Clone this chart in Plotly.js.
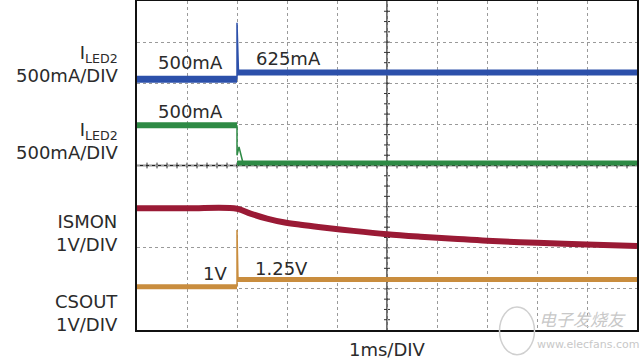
<!DOCTYPE html>
<html>
<head>
<meta charset="utf-8">
<script src="https://cdn.plot.ly/plotly-3.0.1.min.js"></script>
<style>html,body{margin:0;padding:0;background:#fff;}</style>
</head>
<body>
<div id="chart" style="width:640px;height:360px;"></div>
<script>
// Time in divisions (1 ms/DIV), vertical values in screen divisions
const tBefore = [0, 2];
const tAfter = [2, 10];

// I_LED2 (top, blue)
const ledA_before = [6.10, 6.10];
const ledA_after = [6.26, 6.26];
const ledA_spikeT = [2, 2, 2.03];
const ledA_spike = [6.10, 7.47, 6.26];

// I_LED2 (second, green)
const ledB_before = [4.98, 4.98];
const ledB_after = [4.06, 4.06];
const ledB_spikeT = [2, 2, 2.04, 2.12];
const ledB_spike = [4.98, 4.25, 4.45, 4.06];

// ISMON (red)
const ismonT = [0, 1, 2, 2.27, 2.6, 2.93, 3.27, 3.67, 4.33, 5, 5.67, 6.33, 7, 8, 9, 10];
const ismon = [2.96, 2.96, 2.95, 2.83, 2.71, 2.62, 2.56, 2.50, 2.41, 2.33, 2.27, 2.22, 2.17, 2.12, 2.08, 2.04];

// CSOUT (orange)
const csout_before = [1.05, 1.05];
const csout_after = [1.23, 1.23];
const csout_spikeT = [2, 2, 2.02];
const csout_spike = [1.05, 2.43, 1.23];

// channel reference markers
const refLevels = [6.03, 4.06, 1.99, 0.0];

// screen geometry (divisions)
const xDivs = 10, yDivs = 8;
const xMinor = 0.2, yMinor = 0.25;

const cBlue = '#2c50aa';
const cGreen = '#2e8a45';
const cRed = '#9a1a35';
const cOrange = '#c98d3e';
const refColors = [cBlue, cGreen, cRed, cOrange];

function band(x, y, color, w, shape) {
  return {x: x, y: y, mode: 'lines', line: {color: color, width: w, shape: shape || 'linear'},
          hoverinfo: 'skip', showlegend: false};
}

const traces = [
  band(tBefore, ledA_before, cBlue, 7),
  band(tAfter, ledA_after, cBlue, 6),
  band(ledA_spikeT, ledA_spike, cBlue, 1.5),
  band(tBefore, ledB_before, cGreen, 6),
  band(tAfter, ledB_after, cGreen, 5),
  band(ledB_spikeT, ledB_spike, cGreen, 1.5),
  band(ismonT, ismon, cRed, 6, 'spline'),
  band(tBefore, csout_before, cOrange, 5),
  band(tAfter, csout_after, cOrange, 5),
  band(csout_spikeT, csout_spike, cOrange, 1.5),
  {x: refLevels.map(() => -0.13), y: refLevels, mode: 'markers', cliponaxis: false,
   marker: {symbol: 'triangle-right', size: 8, color: refColors}, hoverinfo: 'skip', showlegend: false}
];

const gridAxis = {
  showgrid: true, gridcolor: '#9a9a9a', griddash: 'dot', gridwidth: 1,
  showline: true, mirror: true, linecolor: '#111', linewidth: 2,
  ticks: '', showticklabels: false, zeroline: false, fixedrange: true
};

// center graticule lines with small crossing ticks
const cx = xDivs / 2, cy = yDivs / 2;
const shapes = [
  {type: 'line', xref: 'x', yref: 'y', x0: cx, x1: cx, y0: 0, y1: yDivs, line: {color: '#222', width: 1.3}, layer: 'below'},
  {type: 'line', xref: 'x', yref: 'y', x0: 0, x1: xDivs, y0: cy, y1: cy, line: {color: '#222', width: 1.3}, layer: 'below'}
];
for (let i = 1; i < Math.round(xDivs / xMinor); i++) {
  shapes.push({type: 'line', xref: 'x', yref: 'y', x0: i * xMinor, x1: i * xMinor, y0: cy - 0.07, y1: cy + 0.07,
               line: {color: '#333', width: 1}, layer: 'below'});
}
for (let i = 1; i < Math.round(yDivs / yMinor); i++) {
  shapes.push({type: 'line', xref: 'x', yref: 'y', x0: cx - 0.06, x1: cx + 0.06, y0: i * yMinor, y1: i * yMinor,
               line: {color: '#333', width: 1}, layer: 'below'});
}
shapes.push({type: 'circle', xref: 'paper', yref: 'paper', x0: 0.725, x1: 0.795, y0: -0.075, y1: 0.07,
             line: {color: '#d0d0d0', width: 1.5}});

const lblFont = {family: 'DejaVu Sans, Arial, sans-serif', size: 18, color: '#2b2b2b'};
function lbl(text, x, y, xanchor, align) {
  return {text: text, xref: 'paper', yref: 'paper', x: x, y: y, xanchor: xanchor, yanchor: 'middle',
          align: align || 'center', showarrow: false, font: lblFont};
}

const annotations = [
  lbl('I<sub>LED2</sub><br>500mA/DIV', -0.034, 0.810, 'right', 'right'),
  lbl('I<sub>LED2</sub><br>500mA/DIV', -0.034, 0.574, 'right', 'right'),
  lbl('ISMON<br>1V/DIV', -0.034, 0.296, 'right', 'right'),
  lbl('CSOUT<br>1V/DIV', -0.034, 0.053, 'right', 'right'),
  lbl('500mA', 0.106, 0.813, 'center'),
  lbl('625mA', 0.302, 0.824, 'center'),
  lbl('500mA', 0.106, 0.664, 'center'),
  lbl('1V', 0.156, 0.172, 'center'),
  lbl('1.25V', 0.288, 0.187, 'center'),
  lbl('1ms/DIV', 0.501, -0.058, 'center'),
  {text: '<i>电子发烧友</i>', xref: 'paper', yref: 'paper', x: 0.80, y: 0.035, xanchor: 'left', yanchor: 'middle',
   showarrow: false, font: {family: 'Noto Sans CJK SC', size: 17, color: '#c8c8c8'}},
  {text: 'www.elecfans.com', xref: 'paper', yref: 'paper', x: 0.795, y: -0.045, xanchor: 'left', yanchor: 'middle',
   showarrow: false, font: {family: 'DejaVu Sans', size: 11, color: '#c8c8c8'}}
];

const layout = {
  width: 640, height: 360,
  margin: {l: 137, r: 3, t: 1, b: 30},
  paper_bgcolor: '#fff', plot_bgcolor: '#fff',
  xaxis: Object.assign({range: [0, xDivs], dtick: 1, tick0: 0}, gridAxis),
  yaxis: Object.assign({range: [0, yDivs], dtick: 1, tick0: 0}, gridAxis),
  showlegend: false,
  annotations: annotations,
  shapes: shapes
};

Plotly.newPlot('chart', traces, layout, {staticPlot: true, displayModeBar: false});
</script>
</body>
</html>
